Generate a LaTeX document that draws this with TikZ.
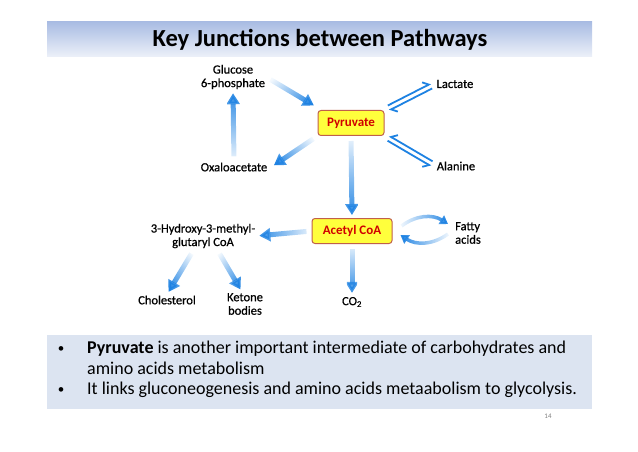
\documentclass[tikz,border=0pt]{standalone}
\usepackage{fontspec}
\setmainfont{Carlito}
\newfontfamily\lblfont[FakeBold=0.7]{Carlito}
\usetikzlibrary{positioning,arrows.meta,fadings,calc}

\definecolor{flowblue}{HTML}{1E82E2}
\definecolor{hubyellow}{HTML}{FFFF3C}
\definecolor{hubedge}{HTML}{C0604A}
\definecolor{hubred}{HTML}{D00000}
\definecolor{bandtop}{HTML}{A9BCE3}
\definecolor{bandbot}{HTML}{EDF1F9}
\definecolor{notefill}{HTML}{DCE4F1}

\tikzfading[name=tailfade, left color=transparent!95, right color=transparent!0]

\begin{document}
\begin{tikzpicture}[x=1pt, y=1pt,
    lbl/.style={font=\lblfont\fontsize{12.5}{13.5}\selectfont, align=center, inner sep=1pt},
    hub/.style={draw=hubedge, fill=hubyellow, rounded corners=3pt, line width=1pt, text=hubred,
        font=\fontsize{13}{14}\selectfont\bfseries, minimum height=25pt},
    flow/.style={line width=5pt, draw=flowblue, -{Triangle[length=11pt,width=13pt]},
        path fading=tailfade, fading angle=#1, shorten <=5pt, shorten >=3pt},
    swing/.style={line width=3.5pt, draw=flowblue, -{Triangle[length=8pt,width=10pt]},
        path fading=tailfade, fading angle=#1},
    harp/.style={line width=1.8pt, draw=flowblue, shorten <=5pt, shorten >=4pt},
    note/.style={font=\fontsize{18}{20.5}\selectfont, align=left, inner sep=0pt},
    dot/.style={font=\fontsize{13}{14}\selectfont, inner sep=0pt}]

    % Frame
    \useasboundingbox (0,0) rectangle (638,-452);
    \shade[top color=bandtop, bottom color=bandbot] (47,-22) rectangle (592,-57);
    \node[font=\fontsize{24.5}{28}\selectfont\bfseries] (title) at (320,-40) {Key Junctions between Pathways};

    % Nodes
    \node[lbl] (g6p) at (233,-77) {Glucose\\6-phosphate};
    \node[hub, minimum width=66pt] (pyr) at (351,-123) {Pyruvate};
    \node[lbl] (lac) at (455,-84) {Lactate};
    \node[lbl] (ala) at (456,-166) {Alanine};
    \node[lbl] (oxa) at (234,-167) {Oxaloacetate};
    \node[hub, minimum width=80pt] (acoa) at (352,-231) {Acetyl CoA};
    \node[lbl] (hmg) at (203,-236) {3-Hydroxy-3-methyl-\\glutaryl CoA};
    \node[lbl, align=left] (fat) at (468,-233) {Fatty\\acids};
    \node[lbl] (chol) at (167,-300) {Cholesterol};
    \node[lbl, anchor=north] (ket) at (245,-292) {Ketone\\bodies};
    \node[lbl] (co2) at (352,-302) {CO\textsubscript{2}};

    % Arrows
    \draw[flow=-35] (g6p.east) -- ([shift={(-1pt,3pt)}]pyr.north west);
    \draw[flow=90] (oxa.north) -- (g6p.south);
    \draw[flow=212] (pyr.south west) -- ([xshift=3pt]oxa.east);
    \draw[flow=-90] (pyr.south) -- (acoa.north);
    \draw[flow=180] (acoa.west) -- (hmg.east);
    \draw[flow=-128] ([xshift=-9pt]hmg.south) -- (chol.north);
    \draw[flow=-52] ([xshift=14pt]hmg.south) -- ([xshift=-3pt]ket.north);
    \draw[flow=-90] (acoa.south) -- (co2.north);

    % Reversible steps
    \draw[harp, -{Straight Barb[harpoon,length=5pt]}]
        ($(pyr.north east)!2.5pt!90:(lac.west)$) -- ($(lac.west)!2.5pt!-90:(pyr.north east)$);
    \draw[harp, -{Straight Barb[harpoon,length=5pt]}]
        ($(lac.west)!2.5pt!90:(pyr.north east)$) -- ($(pyr.north east)!2.5pt!-90:(lac.west)$);
    \draw[harp, -{Straight Barb[harpoon,swap,length=5pt]}]
        ($(ala.west)!2.5pt!-90:(pyr.south east)$) -- ($(pyr.south east)!2.5pt!90:(ala.west)$);
    \draw[harp, -{Straight Barb[harpoon,swap,length=5pt]}]
        ($(pyr.south east)!2.5pt!-90:(ala.west)$) -- ($(ala.west)!2.5pt!90:(pyr.south east)$);
    \draw[swing=0] ([shift={(9pt,5pt)}]acoa.east) to[bend left=35] ([shift={(-6pt,9pt)}]fat.west);
    \draw[swing=180] ([shift={(-6pt,-1pt)}]fat.west) to[bend left=35] ([shift={(8pt,-4pt)}]acoa.east);

    % Notes
    \fill[notefill] (47,-335) rectangle (592,-409);
    \node[dot] (dot1) at (61,-350) {\textbullet};
    \node[note, anchor=base west] (txt1) at (87,-374) {\textbf{Pyruvate} is another important intermediate of carbohydrates and\\amino acids metabolism};
    \node[dot] (dot2) at (61,-391) {\textbullet};
    \node[note, anchor=west] (txt2) at (87,-390) {It links gluconeogenesis and amino acids metaabolism to glycolysis.};
    \node[font=\fontsize{7}{8}\selectfont, text=gray] (pg) at (548,-416) {14};
\end{tikzpicture}
\end{document}
